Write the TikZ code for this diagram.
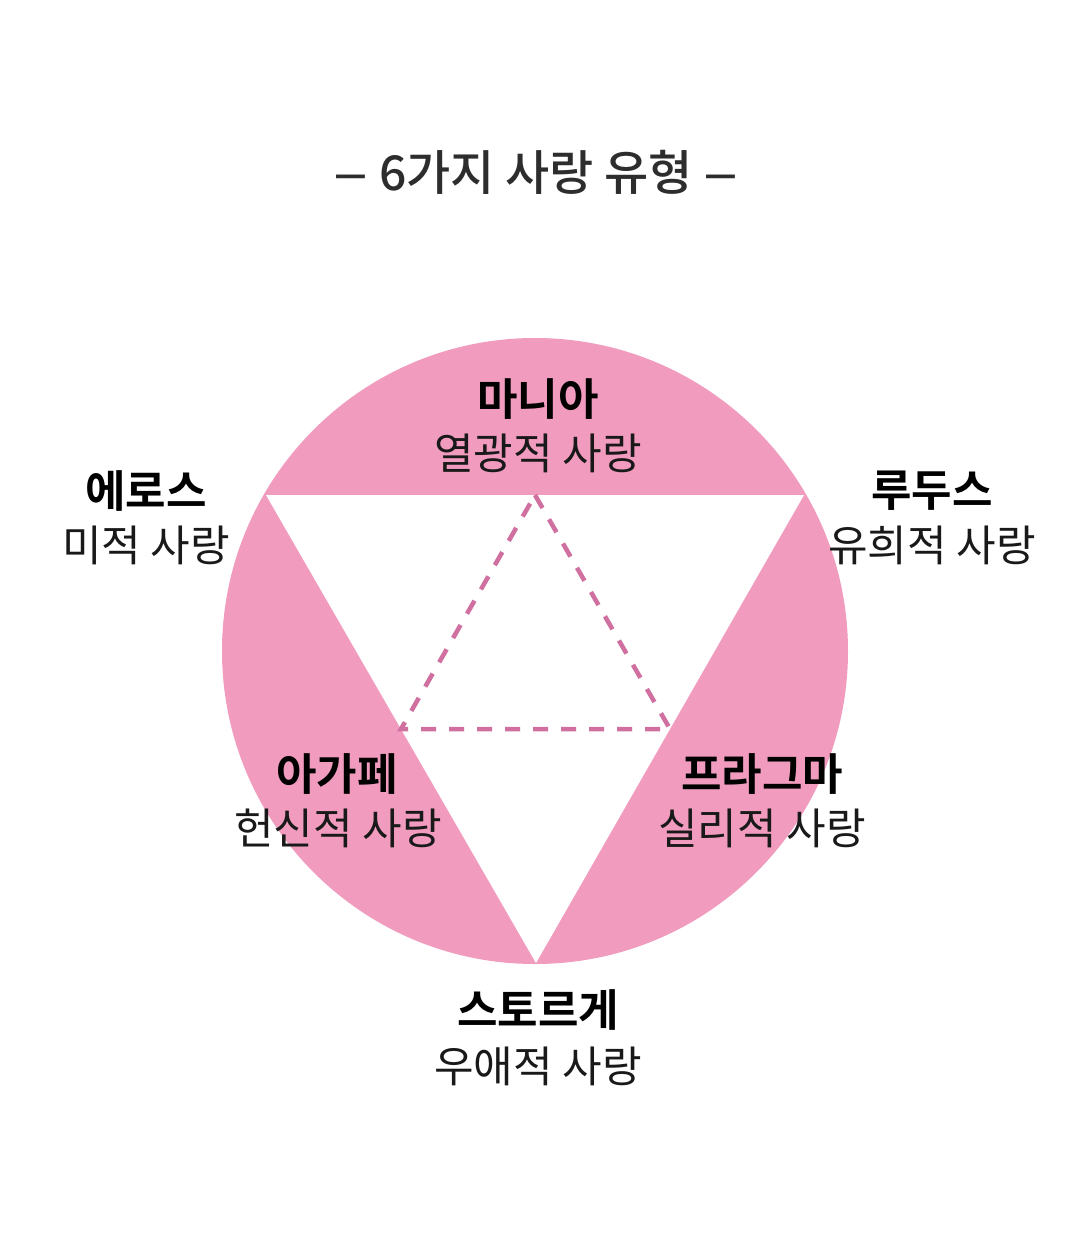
\documentclass[tikz,border=0pt]{standalone}
\usepackage{fontspec}
\usetikzlibrary{calc}
\newfontfamily\kr{Noto Sans CJK KR}
\newfontfamily\krb{Noto Sans CJK KR Bold}
\newfontfamily\krm{Noto Sans CJK KR Medium}
\definecolor{lovepink}{RGB}{241,155,190}
\definecolor{dashpink}{RGB}{208,112,160}
\definecolor{titlegray}{RGB}{45,45,45}
\newcommand{\longdash}{\scalebox{1.35}[1]{–}}
\tikzset{
  namelabel/.style={font=\krb\fontsize{44}{48}\selectfont, text=black, inner sep=0pt},
  desclabel/.style={font=\kr\fontsize{43}{48}\selectfont, text=black!90, inner sep=0pt},
  titlelabel/.style={font=\krm\fontsize{48}{54}\selectfont, text=titlegray, inner sep=0pt},
  innerdash/.style={draw=dashpink, line width=4.5pt, dash pattern=on 15pt off 13pt},
}
\begin{document}
\begin{tikzpicture}[x=1pt,y=-1pt]
\useasboundingbox[fill=white] (0,0) rectangle (1074,1254);
% circle
\coordinate (c) at (535,651);
\fill[lovepink] (c) circle[radius=313];
% white triangle (inscribed)
\coordinate (tl) at (266,495);
\coordinate (tr) at (804,495);
\coordinate (bt) at (536,963);
\fill[white] (tl) -- (tr) -- (bt) -- cycle;
% dashed medial triangle
\coordinate (mt) at ($(tl)!0.5!(tr)$);
\coordinate (ml) at ($(tl)!0.5!(bt)$);
\coordinate (mr) at ($(tr)!0.5!(bt)$);
\draw[innerdash] (mt) -- (mr) -- (ml) -- cycle;
% title
\node[titlelabel] (title) at (536,172) {\longdash\kern11pt 6가지 사랑 유형\kern11pt\longdash};
% labels
\node[namelabel] (mania) at (538,399) {마니아};
\node[desclabel] (maniad) at (538,453) {열광적 사랑};
\node[namelabel] (eros) at (146,491) {에로스};
\node[desclabel] (erosd) at (146,545) {미적 사랑};
\node[namelabel] (ludus) at (932,491) {루두스};
\node[desclabel] (ludusd) at (932,545) {유희적 사랑};
\node[namelabel] (agape) at (337,774) {아가페};
\node[desclabel] (agaped) at (338,828) {헌신적 사랑};
\node[namelabel] (pragma) at (762,774) {프라그마};
\node[desclabel] (pragmad) at (762,828) {실리적 사랑};
\node[namelabel] (storge) at (538,1010) {스토르게};
\node[desclabel] (storged) at (538,1066) {우애적 사랑};
\end{tikzpicture}
\end{document}
